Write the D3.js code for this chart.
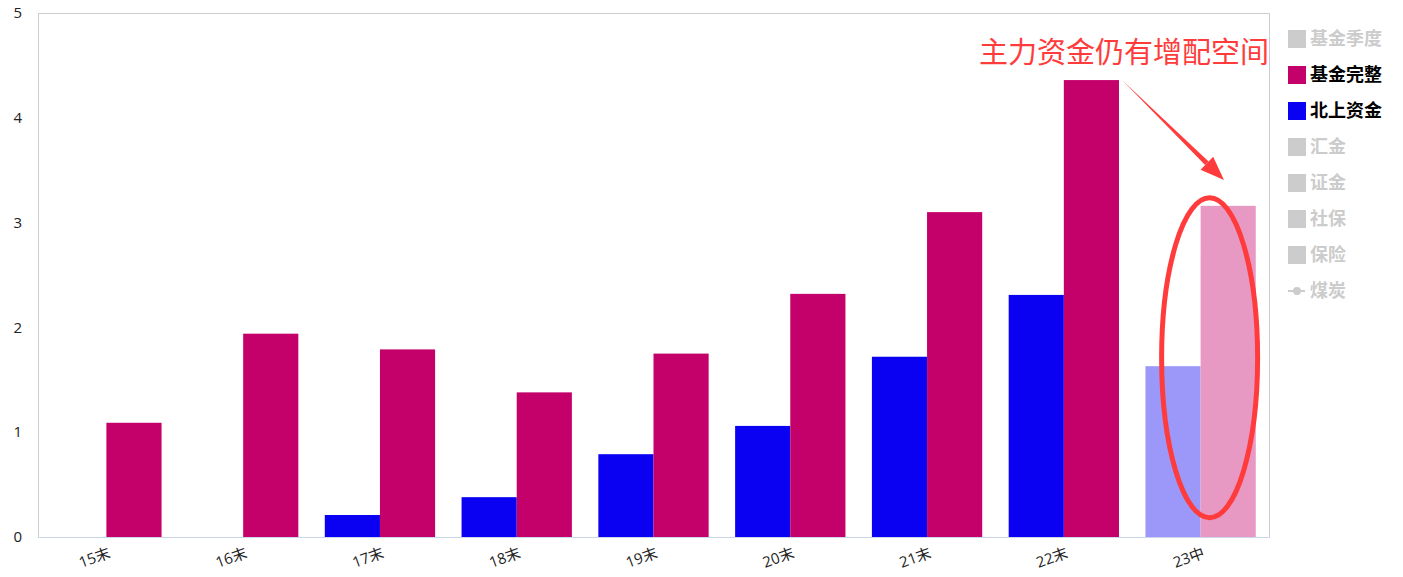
<!DOCTYPE html>
<html>
<head>
<meta charset="utf-8">
<script src="https://cdn.jsdelivr.net/npm/d3@7/dist/d3.min.js"></script>
<style>
  body { margin: 0; background: #fff; }
  svg { display: block; font-family: "Open Sans", "Noto Sans CJK SC", sans-serif; }
</style>
</head>
<body>
<svg id="chart" width="1403" height="577"></svg>
<script>
// data
const categories = ["15末", "16末", "17末", "18末", "19末", "20末", "21末", "22末", "23中"]
const fundFull = [1.09, 1.94, 1.79, 1.38, 1.75, 2.32, 3.10, 4.36, 3.16]
const northbound = [0, 0, 0.21, 0.38, 0.79, 1.06, 1.72, 2.31, 1.63]
const yTicks = [0, 1, 2, 3, 4, 5]
const legendNames = ["基金季度", "基金完整", "北上资金", "汇金", "证金", "社保", "保险", "煤炭"]
const legendOn = [false, true, true, false, false, false, false, false]
const annotation = "主力资金仍有增配空间"
const fadedCategory = "23中"

const colors = { fund: "#c4006a", north: "#0a00f2", off: "#cccccc", note: "#ff3b3b" }

const margin = { left: 38, right: 1269, top: 13, bottom: 537 }
const svg = d3.select("#chart")

const x0 = d3.scaleBand().domain(categories).range([margin.left, margin.right])
const x1 = d3.scaleBand().domain(["north", "fund"]).range([0, x0.bandwidth()]).paddingOuter(0.24)
const y = d3.scaleLinear().domain([0, 5]).range([margin.bottom, margin.top])

// plot frame
svg.append("rect")
  .attr("x", margin.left + 0.5).attr("y", margin.top + 0.5)
  .attr("width", margin.right - margin.left).attr("height", margin.bottom - margin.top)
  .attr("fill", "none").attr("stroke", "#cccccc")
svg.append("line")
  .attr("x1", margin.left).attr("x2", margin.right + 1)
  .attr("y1", margin.bottom + 0.5).attr("y2", margin.bottom + 0.5)
  .attr("stroke", "#ccd6eb")

// y labels
svg.append("g").selectAll("text").data(yTicks).join("text")
  .attr("x", 22).attr("y", d => y(d))
  .attr("dy", "0.35em").attr("text-anchor", "end")
  .attr("font-size", 15).attr("fill", "#222")
  .text(d => d)

// bars
const rows = categories.map((c, i) => ({ cat: c, north: northbound[i], fund: fundFull[i] }))
const groups = svg.append("g").selectAll("g").data(rows).join("g")
  .attr("transform", d => "translate(" + x0(d.cat) + ",0)")
  .attr("opacity", d => d.cat === fadedCategory ? 0.4 : 1)
groups.selectAll("rect")
  .data(d => [{ key: "north", v: d.north }, { key: "fund", v: d.fund }])
  .join("rect")
  .attr("x", d => x1(d.key))
  .attr("width", x1.bandwidth())
  .attr("y", d => y(d.v))
  .attr("height", d => y(0) - y(d.v))
  .attr("fill", d => d.key === "fund" ? colors.fund : colors.north)

// x labels, tilted
svg.append("g").selectAll("text").data(categories).join("text")
  .attr("transform", d => "translate(" + (x0(d) + x0.bandwidth() / 2 + 5) + ",557) rotate(-20)")
  .attr("text-anchor", "end")
  .attr("font-size", 15).attr("fill", "#222")
  .text(d => d)

// legend
const legend = svg.append("g").attr("transform", "translate(1288,39)")
const items = legend.selectAll("g").data(legendNames).join("g")
  .attr("transform", (d, i) => "translate(0," + i * 36 + ")")
items.each(function (d, i) {
  const g = d3.select(this)
  const c = legendOn[i] ? (i === 1 ? colors.fund : colors.north) : colors.off
  if (d === "煤炭") {
    g.append("line").attr("x1", 0).attr("x2", 17).attr("y1", 0).attr("y2", 0)
      .attr("stroke", c).attr("stroke-width", 2)
    g.append("circle").attr("cx", 9).attr("cy", 0).attr("r", 4).attr("fill", c)
  } else {
    g.append("rect").attr("x", 0).attr("y", -9).attr("width", 18).attr("height", 18).attr("fill", c)
  }
  g.append("text").attr("x", 22).attr("dy", "0.36em")
    .attr("font-size", 18).attr("font-weight", "bold")
    .attr("font-family", "'Noto Sans CJK SC', sans-serif")
    .attr("fill", legendOn[i] ? "#000" : colors.off)
    .text(d)
})

// annotation
const last = categories.length - 1
const cx = x0(categories[last]) + x0.bandwidth() / 2 + 9
svg.append("ellipse")
  .attr("cx", cx).attr("cy", y(1.71))
  .attr("rx", 48).attr("ry", 160)
  .attr("fill", "none").attr("stroke", colors.note).attr("stroke-width", 5)

svg.append("text")
  .attr("x", 1269).attr("y", 63)
  .attr("text-anchor", "end")
  .attr("font-size", 29)
  .attr("font-family", "'Noto Sans CJK SC', sans-serif")
  .attr("fill", colors.note)
  .text(annotation)

const ax0 = 1122, ay0 = 80, ax1 = 1224, ay1 = 180
const ang = Math.atan2(ay1 - ay0, ax1 - ax0)
const hl = 24, hw = 9
const bx = ax1 - hl * Math.cos(ang), by = ay1 - hl * Math.sin(ang)
svg.append("path")
  .attr("d", d3.line()([
    [ax0, ay0],
    [bx - 2.5 * Math.sin(ang), by + 2.5 * Math.cos(ang)],
    [bx + 2.5 * Math.sin(ang), by - 2.5 * Math.cos(ang)]
  ]) + "Z")
  .attr("fill", colors.note)
svg.append("path")
  .attr("d", d3.line()([
    [ax1, ay1],
    [bx - hw * Math.sin(ang), by + hw * Math.cos(ang)],
    [bx + hw * Math.sin(ang), by - hw * Math.cos(ang)]
  ]) + "Z")
  .attr("fill", colors.note)
</script>
</body>
</html>
